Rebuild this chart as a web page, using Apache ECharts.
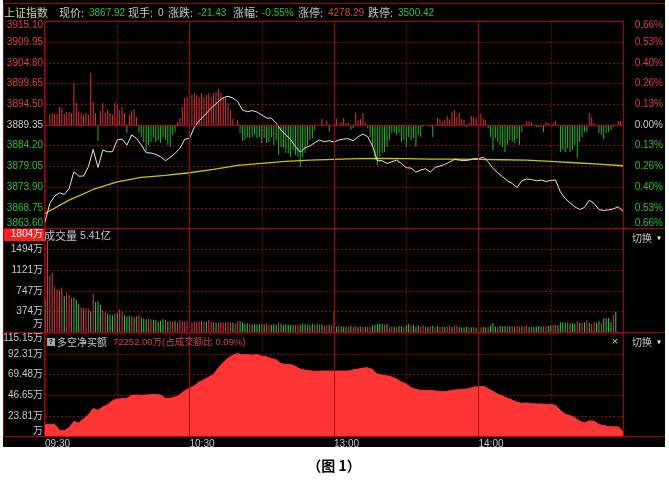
<!DOCTYPE html>
<html><head><meta charset="utf-8">
<script src="https://cdn.jsdelivr.net/npm/echarts@6/dist/echarts.min.js"></script>
<style>html,body{margin:0;padding:0;background:#000;}#c{width:669px;height:487px;}</style>
</head><body><div id="c"></div>
<script>
// ---------- data ----------
const prevClose = 3889.35;
const priceStep = 5.15;
const priceTicks = ['3863.60','3868.75','3873.90','3879.05','3884.20','3889.35','3894.50','3899.65','3904.80','3909.95','3915.10'];
const pctTicks = ['0.66%','0.53%','0.40%','0.26%','0.13%','0.00%','0.13%','0.26%','0.40%','0.53%','0.66%'];
const volStep = 373.6;
const volTicks = ['万','374万','747万','1121万','1494万','1804万'];
const netMin = 0.98, netStep = 22.834;
const netTicks = ['万','23.81万','46.65万','69.48万','92.31万','115.15万'];
const timeTicks = [0, 60, 120, 180];
const timeLabels = ['09:30', '10:30', '13:00', '14:00'];

// price every 2 minutes (index*2 = minute since 09:30, lunch removed)
const price = [
3865.25,3869.82,3871.65,3872.48,3872.07,3873.56,3877.72,3876.64,3876.64,3878.96,
3883.28,3878.80,3883.12,3882.70,3882.70,3885.61,3885.86,3884.36,3886.86,3886.03,
3884.36,3882.45,3882.37,3882.04,3881.46,3880.46,3881.29,3882.29,3883.53,3885.78,
3886.03,3888.77,3890.43,3891.59,3892.92,3894.09,3895.17,3896.16,3896.50,3896.08,
3895.17,3893.09,3892.67,3892.92,3892.59,3891.84,3891.10,3891.01,3889.77,3888.10,
3886.86,3885.78,3883.95,3882.62,3883.70,3884.11,3884.95,3885.61,3885.19,3885.44,
3885.11,3885.61,3885.86,3885.94,3885.44,3886.44,3887.11,3886.44,3884.11,3880.46,
3880.46,3879.79,3880.21,3880.62,3879.79,3878.71,3878.63,3877.63,3878.13,3878.46,
3877.63,3878.80,3879.13,3879.54,3880.13,3880.79,3880.62,3880.46,3880.62,3880.96,
3880.96,3881.37,3880.21,3878.55,3877.47,3876.47,3875.47,3874.81,3873.81,3875.47,
3875.89,3875.80,3875.47,3875.64,3875.31,3875.56,3875.64,3872.73,3871.07,3869.99,
3868.99,3868.33,3868.82,3870.65,3869.82,3868.33,3868.08,3868.24,3868.49,3868.99,
3867.92];
// average price every 10 minutes
const avgPrice = [3867.33,3870.65,3873.31,3875.22,3876.30,3876.80,3877.47,3878.30,3879.29,3879.79,
3880.29,3880.62,3880.79,3880.96,3881.04,3880.96,3880.87,3880.87,3880.79,3880.71,
3880.62,3880.29,3879.96,3879.63,3879.21];
// per-minute buy/sell strength bars (positive red, negative green)
const strength = [
0,0,10,12,11,11,18,17,11,13, 13,12,42,22,14,12,10,12,10,52,
23,12,-16,14,22,12,15,12,10,22, 20,15,18,12,-8,10,14,16,8,-8,
-12,-17,-27,-20,-17,-12,-17,-15,-18,-12, -15,-20,-22,-10,-7,3,7,18,27,28,
23,30,32,30,28,32,28,30,32,28, 32,33,36,32,28,27,22,15,6,0,
5,-8,-16,-15,-12,-13,-12,-10,-13,-12, -18,-13,-18,-17,-12,-20,-15,-30,-22,-23,
-28,-28,-32,-25,-30,-32,-42,-32,-28,-20, -15,-13,-5,0,0,6,0,4,-6,0,
0,6,0,3,7,2,2,-5,-3,12, 5,6,12,3,-3,-12,-22,-35,-40,-32,
-28,-27,-22,-15,-8,-7,-10,-8,-17,-15, -22,-12,-15,-13,-22,-10,-12,-2,-1,-1,
-2,-12,0,7,6,3,5,9,6,13, 15,8,12,6,5,-2,2,9,8,7,
5,11,6,5,-3,-12,-25,-13,-17,-20, -22,-27,-20,-15,-17,-18,-14,-20,-7,0,
4,4,3,0,-2,-2,-2,-7,3,2, 0,2,4,0,-27,-25,-27,-23,-27,-25,
-20,-33,-17,-12,-7,-7,12,8,2,0, -8,-10,-14,-8,-7,-5,-2,0,4,4];
// per-minute volume in 万 (positive = up minute, negative = down minute)
const volume = [
-604,1651,1022,1072,822,779,760,810,-654,710, 667,623,-635,-586,-511,449,436,436,417,-386,
698,-542,-561,-498,399,374,-336,-324,-312,336, -355,417,374,-312,-293,-299,293,-274,293,312,
-262,-249,-243,243,237,-230,-218,-199,-212,-237, 230,-199,212,199,-212,181,218,212,199,199,
187,181,199,187,199,212,187,-199,230,199, 187,-174,174,187,181,181,187,181,-174,162,
199,-205,-181,-162,-162,156,-150,-156,-150,-150, 156,-150,168,137,-137,-156,-137,174,-156,-137,
-150,-150,-137,-137,137,137,-137,-156,-150,143, -137,-156,137,-150,137,-150,125,137,-137,125,
366,-110,128,-110,-98,-104,98,-122,98,110, -98,110,104,-98,98,104,-128,-140,-153,-153,
-159,140,-153,104,104,-110,98,-122,-110,104, -140,-153,128,-140,-98,-122,104,128,110,-104,
110,-122,98,-110,104,110,-98,110,128,-104, 122,116,-98,-92,-92,-98,98,-92,98,-92,
-104,92,-98,-92,98,-128,-171,-110,104,-122, -110,-116,110,-116,110,-104,122,110,-110,110,
128,-98,110,-110,-110,-116,-104,110,110,-116, -122,134,140,-128,-183,-183,-177,183,-165,-165,
-159,201,-171,171,-183,226,-177,153,183,-177, -201,171,-250,-262,-262,-189,311,-372,18,0];
// net buy amount (万) every 2 minutes
const netBuy = [
13.86,14.60,14.60,7.97,7.24,10.92,17.54,16.07,20.48,24.90,
31.89,30.05,33.73,36.31,40.72,42.56,42.93,43.30,46.61,46.98,
46.61,46.98,47.35,47.72,46.61,43.30,43.30,44.77,47.35,51.76,
54.34,57.28,61.33,63.91,66.85,69.80,77.16,83.04,87.83,91.14,
92.98,91.51,91.88,91.14,91.88,90.04,89.30,87.46,85.99,81.94,
80.84,80.84,78.63,75.68,74.58,73.84,73.11,73.48,73.48,73.48,
73.48,73.48,73.48,73.48,74.95,75.68,76.79,77.16,75.32,70.16,
69.06,68.32,66.85,64.64,61.33,59.12,55.08,53.24,52.13,52.13,
52.13,51.40,50.66,50.66,51.76,52.50,52.87,53.24,53.97,55.81,
56.18,56.55,53.97,51.03,47.72,45.88,43.30,41.46,38.88,37.78,
38.15,37.41,37.04,37.04,36.68,36.68,35.57,29.68,25.64,24.16,
21.59,18.28,16.07,18.28,17.91,14.23,13.12,12.02,11.65,11.65,
6.50];

// ---------- styles ----------
const RED = '#e03434', GREEN = '#22b822';
const VRED = '#d84040', VGREEN = '#3cc83c';
const TRED = '#e04040', TGREEN = '#30c030', TGREY = '#c8c8c8';
const GRIDC = '#a00000', FRAME = '#b00000';
const NUMF = "'Liberation Sans', 'Noto Sans CJK SC', sans-serif";
const CJKF = "'Noto Sans CJK SC', sans-serif";

const chart = echarts.init(document.getElementById('c'));

function xAx(g, showLabel) {
  return {
    gridIndex: g, type: 'value', min: 0, max: 240, interval: 30,
    axisLine: {show: false}, axisTick: {show: false},
    splitLine: {show: true, lineStyle: {color: GRIDC, type: [2, 2], width: 1}},
    axisLabel: showLabel ? {
      show: true, margin: 3, align: 'left', color: TGREY, fontFamily: NUMF, fontSize: 10,
      showMaxLabel: true, showMinLabel: true,
      formatter: v => { const k = timeTicks.indexOf(Math.round(v)); return k >= 0 ? timeLabels[k] : ''; }
    } : {show: false}
  };
}
function priceColor(v) { const n = Math.round(Number(v)); return n > 0 ? TRED : (n < 0 ? TGREEN : TGREY); }

const vSolid = [{xAxis: 60}, {xAxis: 120}, {xAxis: 180}];
function gridLineSeries(g, yIdx, extra) {
  return {
    type: 'line', xAxisIndex: g, yAxisIndex: yIdx, data: [], z: 1, silent: true,
    markLine: {symbol: 'none', silent: true, animation: false, label: {show: false},
      lineStyle: {color: FRAME, type: 'solid', width: 1},
      emphasis: {disabled: true},
      data: vSolid.concat(extra || [])}
  };
}

const option = {
  backgroundColor: '#000',
  animation: false,
  grid: [
    {left: 45, right: 46, top: 21.5, height: 207},
    {left: 45, right: 46, top: 228.5, height: 104},
    {left: 45, right: 46, top: 333.5, height: 103}
  ],
  xAxis: [xAx(0, false), xAx(1, false), xAx(2, true)],
  yAxis: [
    {gridIndex: 0, type: 'value', min: -5, max: 5, interval: 1, position: 'left',
      axisLine: {show: false}, axisTick: {show: false},
      splitLine: {show: true, lineStyle: {color: GRIDC, type: [2, 2]}},
      axisLabel: {margin: 2, fontFamily: NUMF, fontSize: 10, color: priceColor,
        formatter: v => { const k = Math.round(v); const s = priceTicks[k + 5];
          if (k === 5) return '{t|' + s + '}'; if (k === -5) return '{b|' + s + '}'; return s; },
        rich: {t: {color: TRED, fontFamily: NUMF, fontSize: 10, padding: [8, 0, 0, 0]},
               b: {color: TGREEN, fontFamily: NUMF, fontSize: 10, padding: [0, 0, 10, 0]}}}},
    {gridIndex: 0, type: 'value', min: -5, max: 5, interval: 1, position: 'right',
      axisLine: {show: false}, axisTick: {show: false}, splitLine: {show: false},
      axisLabel: {margin: 40, align: 'right', fontFamily: NUMF, fontSize: 10, color: priceColor,
        formatter: v => { const k = Math.round(v); const s = pctTicks[k + 5];
          if (k === 5) return '{t|' + s + '}'; if (k === -5) return '{b|' + s + '}'; return s; },
        rich: {t: {color: TRED, fontFamily: NUMF, fontSize: 10, padding: [8, 0, 0, 0]},
               b: {color: TGREEN, fontFamily: NUMF, fontSize: 10, padding: [0, 0, 10, 0]}}}},
    {gridIndex: 0, type: 'value', min: -103.5, max: 103.5, show: false, splitLine: {show: false}},
    {gridIndex: 1, type: 'value', min: 0, max: 5 * volStep, interval: volStep, position: 'left',
      axisLine: {show: false}, axisTick: {show: false},
      splitLine: {show: true, lineStyle: {color: GRIDC, type: [2, 2]}},
      axisLabel: {margin: 2, fontFamily: NUMF, fontSize: 10, color: TGREY,
        formatter: v => { const k = Math.round(v / volStep); const s = volTicks[k];
          if (k === 5) return '{t|' + s + '}'; if (k === 0) return '{b|' + s + '}'; return s; },
        rich: {t: {color: '#ffffff', fontFamily: NUMF, fontSize: 10, padding: [12, 0, 0, 0]},
               b: {color: TGREY, fontFamily: NUMF, fontSize: 10, padding: [0, 0, 16, 0]}}}},
    {gridIndex: 2, type: 'value', min: 0, max: 5 * netStep, interval: netStep, position: 'left',
      axisLine: {show: false}, axisTick: {show: false},
      splitLine: {show: true, lineStyle: {color: GRIDC, type: [2, 2]}},
      axisLabel: {margin: 2, fontFamily: NUMF, fontSize: 10, color: TGREY,
        formatter: v => { const k = Math.round(v / netStep); const s = netTicks[k];
          if (k === 5) return '{t|' + s + '}'; if (k === 0) return '{b|' + s + '}'; return s; },
        rich: {t: {color: TGREY, fontFamily: NUMF, fontSize: 10, padding: [10, 0, 0, 0]},
               b: {color: TGREY, fontFamily: NUMF, fontSize: 10, padding: [0, 0, 11, 0]}}}}
  ],
  series: [
    gridLineSeries(0, 0, [{yAxis: 0}]),
    gridLineSeries(1, 3),
    gridLineSeries(2, 4),
    {type: 'bar', xAxisIndex: 0, yAxisIndex: 2, barWidth: 1, z: 2, silent: true,
      data: strength.map((v, i) => ({value: [i, v], itemStyle: {color: v >= 0 ? RED : GREEN}}))},
    {type: 'line', xAxisIndex: 0, yAxisIndex: 0, symbol: 'none', z: 3, silent: true,
      lineStyle: {color: '#c8c800', width: 1.3},
      data: avgPrice.map((p, k) => [k * 10, (p - prevClose) / priceStep])},
    {type: 'line', xAxisIndex: 0, yAxisIndex: 0, symbol: 'none', z: 4, silent: true,
      lineStyle: {color: '#e6e6e6', width: 1},
      data: price.map((p, k) => [k * 2, (p - prevClose) / priceStep])},
    {type: 'bar', xAxisIndex: 1, yAxisIndex: 3, barWidth: 1, z: 2, silent: true,
      data: volume.map((v, i) => ({value: [i, Math.abs(v)], itemStyle: {color: v >= 0 ? VRED : VGREEN}}))},
    {type: 'line', xAxisIndex: 2, yAxisIndex: 4, symbol: 'none', z: 3, silent: true,
      lineStyle: {color: '#ff3434', width: 1},
      areaStyle: {color: '#ff3434', opacity: 1},
      data: netBuy.map((v, k) => [k * 2, v - netMin])}
  ],
  graphic: {elements: []}
};

const G = option.graphic.elements;
function rect(x, y, w, h, fill, z) { G.push({type: 'rect', shape: {x, y, width: w, height: h}, style: {fill}, silent: true, z: z === undefined ? 0 : z}); }
function line(x1, y1, x2, y2) { G.push({type: 'line', shape: {x1, y1, x2, y2}, style: {stroke: FRAME, lineWidth: 1}, silent: true, z: 50}); }
function text(t, x, y, fill, font, align) {
  G.push({type: 'text', x: x, y: y, silent: true, z: 60,
    style: {text: t, fill, font, textAlign: align || 'left', textVerticalAlign: 'middle', align: align || 'left', verticalAlign: 'middle'}});
}
// white margins
rect(0, 0, 3, 487, '#fff', 40);
rect(665, 0, 4, 487, '#fff', 40);
rect(0, 447, 669, 40, '#fff', 40);
// frame lines
line(3, 3.5, 665, 3.5);
line(3.5, 3, 3.5, 436.5);
line(44.5, 21.5, 623.5, 21.5);
line(44.5, 21.5, 44.5, 436.5);
line(623.5, 21.5, 623.5, 436.5);
line(3, 228.5, 665, 228.5);
line(3, 332.5, 665, 332.5);
line(3, 436.5, 665, 436.5);
// red box for volume max label
rect(4, 229, 40, 12, '#ff1e1e', -1);
// header
const F11 = '11px ' + CJKF, F10 = '10px ' + NUMF;
text('上证指数', 4, 13, '#d2d28c', F11);
text('现价:', 59, 13, TGREY, F11); text('3867.92', 89, 13, TGREEN, F10);
text('现手:', 128, 13, TGREY, F11); text('0', 158, 13, TGREY, F10);
text('涨跌:', 168, 13, TGREY, F11); text('-21.43', 198, 13, TGREEN, F10);
text('涨幅:', 233, 13, TGREY, F11); text('-0.55%', 262, 13, TGREEN, F10);
text('涨停:', 298, 13, TGREY, F11); text('4278.29', 328, 13, TRED, F10);
text('跌停:', 368, 13, TGREY, F11); text('3500.42', 398, 13, TGREEN, F10);
// volume panel title
text('成交量', 44, 236, TGREY, F11); text('5.41亿', 80, 236, TGREY, '10.5px ' + NUMF);
text('切换', 632, 238, TGREY, '10px ' + CJKF); text('▼', 656, 238, '#ffffff', '6px ' + NUMF);
// net panel title
rect(47, 338, 8, 8, '#a8a8a8', 55);
text('?', 51, 342, '#000', 'bold 7px ' + NUMF, 'center');
text('多空净买额', 57, 342, TGREY, '10px ' + CJKF);
text('72252.00万(占成交额比 0.09%)', 113, 342, '#d84848', '9.5px ' + NUMF);
text('×', 615, 342, TGREY, '11px ' + NUMF, 'center');
text('切换', 632, 342, TGREY, '10px ' + CJKF); text('▼', 656, 342, '#ffffff', '6px ' + NUMF);
// caption
text('（图 1）', 334, 466, '#000', 'bold 14px ' + CJKF, 'center');

chart.setOption(option);
</script>
</body></html>
